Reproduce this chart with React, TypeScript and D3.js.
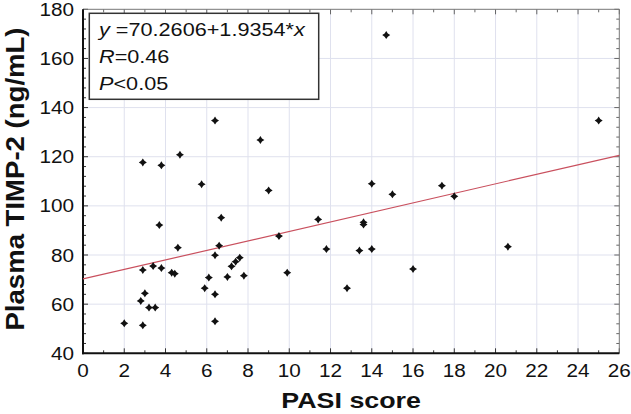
import React from "react";
import * as d3 from "d3";

const pasiScore = [2.9, 3.8, 4.7, 5.75, 6.4, 8.6, 9.0, 14.7, 25.0, 14.0, 15.0, 17.4, 18.0, 2.0, 2.9, 2.8, 3.0, 3.2, 3.5, 2.9, 3.4, 3.8, 3.7, 4.3, 4.45, 4.6, 5.9, 6.1, 6.4, 6.4, 6.4, 6.6, 6.7, 7.0, 7.2, 7.4, 7.6, 7.8, 9.5, 9.9, 11.4, 11.8, 12.8, 13.4, 13.6, 13.6, 14.0, 16.0, 20.6];
const timp2 = [117.7, 116.5, 120.8, 108.8, 134.7, 126.8, 106.3, 169.5, 134.7, 109, 104.7, 108.2, 103.9, 52.2, 51.4, 61.3, 64.4, 58.6, 58.6, 73.9, 75.5, 74.7, 92.2, 72.8, 72.4, 83.0, 66.5, 70.8, 79.9, 64.0, 53.0, 83.8, 95.2, 71.1, 75.4, 77.3, 78.9, 71.6, 87.7, 72.8, 94.5, 82.4, 66.5, 81.8, 93.3, 92.4, 82.4, 74.3, 83.4];
const xTicks = [0, 2, 4, 6, 8, 10, 12, 14, 16, 18, 20, 22, 24, 26];
const yTicks = [40, 60, 80, 100, 120, 140, 160, 180];
const intercept = 70.2606;
const slope = 1.9354;

const W = 631, H = 414;
const L = 83, R = 619.3, T = 9.3, B = 353.3;
const SX = 1.12;

export default function App() {
  const x = d3.scaleLinear().domain([0, 26]).range([L, R]);
  const y = d3.scaleLinear().domain([40, 180]).range([B, T]);
  const minorX = d3.range(0, 27, 1);
  const minorY = d3.range(40, 181, 4);
  const line = d3.line<number>().x((d) => x(d)).y((d) => y(intercept + slope * d));
  const marker = "M0,-4L1.6,-1.6L4,0L1.6,1.6L0,4L-1.6,1.6L-4,0L-1.6,-1.6Z";
  const font = "Liberation Sans, Arial, sans-serif";

  const sText = (tx: number, ty: number, anchor: string, size: number, content: React.ReactNode, key?: any, weight = "normal", sx = SX) => (
    <text key={key} transform={`translate(${tx},${ty}) scale(${sx},1)`} textAnchor={anchor as any} fontSize={size} fontWeight={weight} fontFamily={font} fill="#111">
      {content}
    </text>
  );

  return (
    <svg width={W} height={H} style={{ position: "absolute", left: 0, top: 0, background: "#fff" }}>
      <rect x={0} y={0} width={W} height={H} fill="#fff" />
      {xTicks.slice(1, -1).map((t) => (
        <line key={"gx" + t} x1={x(t)} x2={x(t)} y1={T} y2={B} stroke="#dfe1ee" strokeWidth={1} />
      ))}
      {yTicks.slice(1, -1).map((t) => (
        <line key={"gy" + t} x1={L} x2={R} y1={y(t)} y2={y(t)} stroke="#dfe1ee" strokeWidth={1} />
      ))}
      {minorX.map((t) => (
        <g key={"mx" + t}>
          <line x1={x(t)} x2={x(t)} y1={B} y2={B - (t % 2 === 0 ? 5 : 3)} stroke="#333" strokeWidth={1} />
          <line x1={x(t)} x2={x(t)} y1={T} y2={T + (t % 2 === 0 ? 5 : 3)} stroke="#666" strokeWidth={1} />
        </g>
      ))}
      {minorY.map((t) => (
        <g key={"my" + t}>
          <line x1={L} x2={L + ((t - 40) % 20 === 0 ? 5 : 3)} y1={y(t)} y2={y(t)} stroke="#333" strokeWidth={1} />
          <line x1={R} x2={R - ((t - 40) % 20 === 0 ? 5 : 3)} y1={y(t)} y2={y(t)} stroke="#666" strokeWidth={1} />
        </g>
      ))}
      <line x1={L} x2={R} y1={T} y2={T} stroke="#777" strokeWidth={1} />
      <line x1={R} x2={R} y1={T} y2={B} stroke="#777" strokeWidth={1} />
      <line x1={L} x2={L} y1={T} y2={B + 1} stroke="#111" strokeWidth={2} />
      <line x1={L - 1} x2={R} y1={B} y2={B} stroke="#111" strokeWidth={2} />
      <path d={line([0, 26]) || ""} fill="none" stroke="#c9505e" strokeWidth={1.2} />
      {pasiScore.map((px, i) => (
        <path key={"p" + i} d={marker} transform={`translate(${x(px)},${y(timp2[i])})`} fill="#111" />
      ))}
      {xTicks.map((t) => sText(x(t), 376.5, "middle", 18.5, String(t), "xl" + t))}
      {yTicks.map((t) => sText(74, y(t) + 6.6, "end", 18.5, String(t), "yl" + t))}
      {sText((L + R) / 2, 408, "middle", 22, "PASI score", "xt", "bold", 1.22)}
      <text transform={`translate(23.5,179) rotate(-90) scale(1.06,1)`} textAnchor="middle" fontSize={26} fontWeight="bold" fontFamily={font} fill="#111">
        Plasma TIMP-2 (ng/mL)
      </text>
      <rect x={89.3} y={13.3} width={229.4} height={86} fill="#fff" stroke="#333" strokeWidth={1.5} />
      {sText(99, 35.5, "start", 19, <><tspan fontStyle="italic">y</tspan>{" =70.2606+1.9354*"}<tspan fontStyle="italic">x</tspan></>, "l1", "normal", 1.14)}
      {sText(99, 63, "start", 19, <><tspan fontStyle="italic">R</tspan>{"=0.46"}</>, "l2", "normal", 1.14)}
      {sText(99, 89.5, "start", 19, <><tspan fontStyle="italic">P</tspan>{"<0.05"}</>, "l3", "normal", 1.14)}
    </svg>
  );
}
